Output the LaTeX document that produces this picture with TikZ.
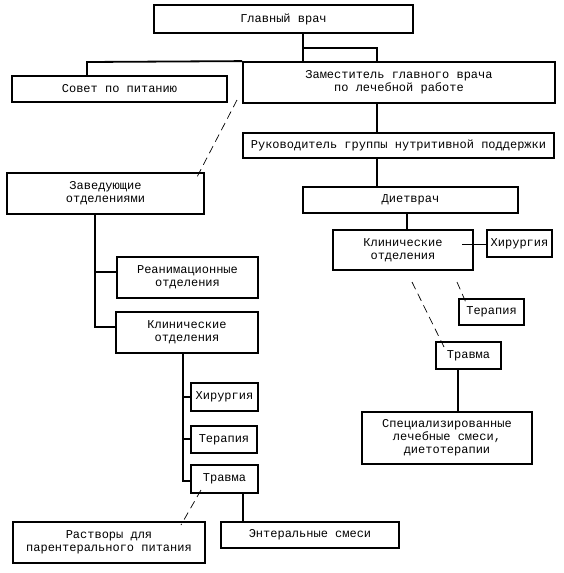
\documentclass[tikz,border=0pt]{standalone}
\usepackage{fontspec}
\setmainfont{Liberation Mono}
\begin{document}
\begin{tikzpicture}[x=1pt,y=1pt,
  box/.style={draw, line width=1.8pt, inner sep=0pt, align=center,
    font=\fontsize{12}{13}\selectfont},
  conn/.style={line width=1.8pt},
  dconn/.style={line width=0.7pt, dash pattern=on 8pt off 5pt}]
\useasboundingbox (0,0) rectangle (563,-573);
\newcommand\mkbox[6]{\node[box, minimum width={(#4-#2)*1pt}, minimum height={(#5-#3)*1pt}] (#1) at ({(#2+#4)/2},{-(#3+#5)/2}) {#6};}
\mkbox{glav}{154}{5}{413}{33}{Главный врач}
\mkbox{sovet}{12}{76}{227}{102}{Совет по питанию}
\mkbox{zam}{243}{62}{555}{103}{Заместитель главного врача\\по лечебной работе}
\mkbox{ruk}{243}{133}{554}{158}{Руководитель группы нутритивной поддержки}
\mkbox{zaved}{7}{173}{204}{214}{Заведующие\\отделениями}
\mkbox{diet}{303}{187}{518}{213}{Диетврач}
\mkbox{klinR}{333}{230}{473}{270}{Клинические\\отделения}
\mkbox{hirR}{487}{230}{552}{257}{Хирургия}
\mkbox{terR}{459}{299}{524}{325}{Терапия}
\mkbox{travR}{436}{342}{501}{369}{Травма}
\mkbox{spec}{362}{412}{532}{464}{Специализированные\\лечебные смеси,\\диетотерапии}
\mkbox{reanim}{117}{257}{258}{298}{Реанимационные\\отделения}
\mkbox{klinL}{116}{312}{258}{353}{Клинические\\отделения}
\mkbox{hirL}{191}{383}{258}{411}{Хирургия}
\mkbox{terL}{191}{426}{257}{453}{Терапия}
\mkbox{travL}{191}{465}{258}{493}{Травма}
\mkbox{rastv}{13}{522}{205}{563}{Растворы для\\парентерального питания}
\mkbox{ent}{221}{522}{399}{548}{Энтеральные смеси}
% junctions
\coordinate (j1) at (303,-62);
\coordinate (j2) at (303,-48);
\coordinate (j3) at (377,-48);
\coordinate (j4) at (87,-62);
\coordinate (j5) at (407,0);
\coordinate (j6) at (462,-244);
\coordinate (j7) at (458,0);
\coordinate (j8) at (95,-272);
\coordinate (j9) at (95,-327);
\coordinate (k1) at (183,-397);
\coordinate (k2) at (183,-439);
\coordinate (k3) at (183,-481);
\coordinate (j10) at (243,0);
% dashed ends
\coordinate (d1) at (237,-100);
\coordinate (d2) at (197,-177);
\coordinate (d3) at (457,-282);
\coordinate (d4) at (467,-305);
\coordinate (d5) at (412,-282);
\coordinate (d6) at (444,-347);
\coordinate (d7) at (201,-490);
\coordinate (d8) at (181,-525);
% connectors
\draw[conn] (glav.south -| j1) -- (j1);
\draw[conn] (j2) -- (j3) -- (j3 |- zam.north);
\draw[conn] (j4 |- sovet.north) -- (j4) -- (zam.north west);
\draw[conn] (j3 |- zam.south) -- (j3 |- ruk.north);
\draw[conn] (j3 |- ruk.south) -- (j3 |- diet.north);
\draw[conn] (j5 |- diet.south) -- (j5 |- klinR.north);
\draw[line width=1pt] (hirR.west |- j6) -- (j6);
\draw[conn] (j7 |- travR.south) -- (j7 |- spec.north);
\draw[conn] (j8 |- zaved.south) -- (j9) -- (j9 -| klinL.west);
\draw[conn] (j8) -- (j8 -| reanim.west);
\draw[conn] (k1 |- klinL.south) -- (k3) -- (k3 -| travL.west);
\draw[conn] (k1) -- (k1 -| hirL.west);
\draw[conn] (k2) -- (k2 -| terL.west);
\draw[conn] (j10 |- travL.south) -- (j10 |- ent.north);
\draw[dconn] (d1) -- (d2);
\draw[dconn] (d3) -- (d4);
\draw[dconn] (d5) -- (d6);
\draw[dconn] (d7) -- (d8);
\end{tikzpicture}
\end{document}
